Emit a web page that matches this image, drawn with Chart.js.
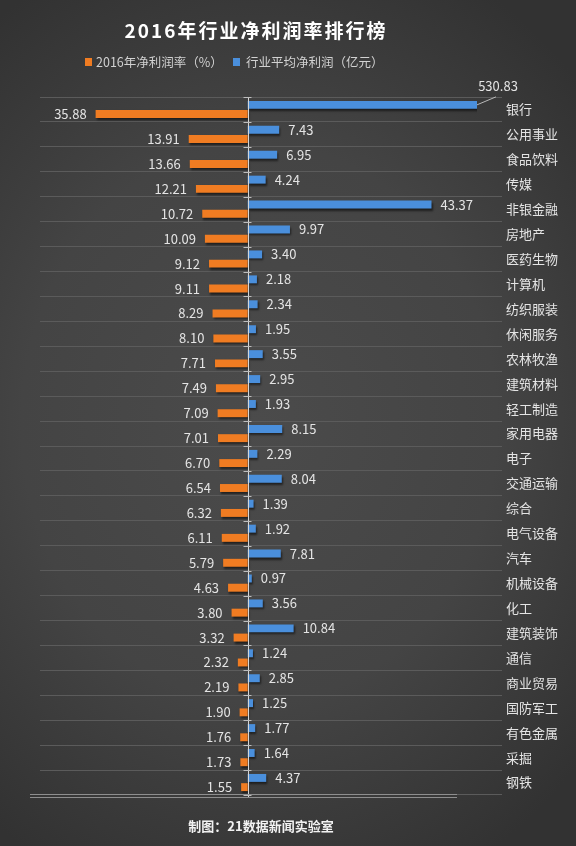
<!DOCTYPE html>
<html><head><meta charset="utf-8">
<script src="https://cdn.jsdelivr.net/npm/chart.js@4.4.1/dist/chart.umd.min.js"></script>
<style>
html,body{margin:0;padding:0;width:576px;height:846px;overflow:hidden;}
body{background: radial-gradient(ellipse 75% 60% at 45% 50%, #4b4b4b 0%, #444444 55%, #323232 100%);}
canvas{display:block;}
</style></head><body>
<canvas id="c" width="576" height="846"></canvas>
<script>
const categories = ['银行','公用事业','食品饮料','传媒','非银金融','房地产','医药生物','计算机','纺织服装','休闲服务','农林牧渔','建筑材料','轻工制造','家用电器','电子','交通运输','综合','电气设备','汽车','机械设备','化工','建筑装饰','通信','商业贸易','国防军工','有色金属','采掘','钢铁'];
const avgProfit = [530.83,7.43,6.95,4.24,43.37,9.97,3.40,2.18,2.34,1.95,3.55,2.95,1.93,8.15,2.29,8.04,1.39,1.92,7.81,0.97,3.56,10.84,1.24,2.85,1.25,1.77,1.64,4.37];
const netMargin = [35.88,13.91,13.66,12.21,10.72,10.09,9.12,9.11,8.29,8.10,7.71,7.49,7.09,7.01,6.70,6.54,6.32,6.11,5.79,4.63,3.80,3.32,2.32,2.19,1.90,1.76,1.73,1.55];
const seriesNames = ['2016年净利润率（%）','行业平均净利润（亿元）'];
const titleText = '2016年行业净利润率排行榜';
const footerText = '制图：21数据新闻实验室';

const FAM = '"Noto Sans CJK SC","Noto Sans",sans-serif';
const BLUE = '#4a8fdc', ORANGE = '#f07c22';
const CAP = 25; // pixels the blue series is clipped inside the plot's right edge

const shadowPlugin = {
  id:'shadow',
  beforeDatasetDraw(chart){ const c=chart.ctx; c.save(); c.shadowColor='rgba(0,0,0,0.55)'; c.shadowOffsetY=2; c.shadowOffsetX=1; c.shadowBlur=2; },
  afterDatasetDraw(chart){ chart.ctx.restore(); }
};

const decoPlugin = {
  id:'deco',
  afterDraw(chart){
    const ctx = chart.ctx, a = chart.chartArea, xs = chart.scales.x;
    ctx.save();
    // zero line with small ticks
    const x0 = Math.round(xs.getPixelForValue(0)) + 0.5;
    ctx.strokeStyle = '#d6d6d6'; ctx.lineWidth = 1;
    ctx.beginPath(); ctx.moveTo(x0, a.top); ctx.lineTo(x0, a.bottom + 2); ctx.stroke();
    const n = categories.length, step = (a.bottom - a.top) / n;
    ctx.strokeStyle = '#bdbdbd';
    for (let i = 0; i <= n; i++) {
      const y = Math.round(a.top + i * step) + 0.5;
      ctx.beginPath(); ctx.moveTo(x0 - 5, y); ctx.lineTo(x0 + 3, y); ctx.stroke();
    }
    // bottom axis line
    ctx.strokeStyle = '#8e8e8e';
    ctx.beginPath(); ctx.moveTo(30, Math.round(a.bottom) - 0.5); ctx.lineTo(457, Math.round(a.bottom) - 0.5); ctx.stroke();
    ctx.beginPath(); ctx.moveTo(30, Math.round(a.bottom) + 2.5); ctx.lineTo(457, Math.round(a.bottom) + 2.5); ctx.stroke();

    // value labels
    ctx.font = '13px ' + FAM; ctx.fillStyle = '#e4e4e4'; ctx.textBaseline = 'middle';
    const capX = a.right - CAP;
    chart.getDatasetMeta(0).data.forEach((bar, i) => {
      const txt = avgProfit[i].toFixed(2);
      if (bar.x > capX) {
        ctx.strokeStyle = '#b8b8b8';
        ctx.beginPath(); ctx.moveTo(capX, bar.y); ctx.lineTo(capX + 19, bar.y - 8); ctx.stroke();
        ctx.textAlign = 'center'; ctx.fillText(txt, capX + 21, bar.y - 19);
      } else {
        ctx.textAlign = 'left'; ctx.fillText(txt, bar.x + 9, bar.y);
      }
    });
    chart.getDatasetMeta(1).data.forEach((bar, i) => {
      ctx.textAlign = 'right'; ctx.fillText(netMargin[i].toFixed(2), bar.x - 9, bar.y);
    });

    // title
    ctx.fillStyle = '#ffffff'; ctx.textAlign = 'center';
    ctx.font = 'bold 19px ' + FAM;
    try { ctx.letterSpacing = '2px'; } catch(e) {}
    ctx.fillText(titleText, 256, 31);
    try { ctx.letterSpacing = '0px'; } catch(e) {}

    // legend
    ctx.font = '12.5px ' + FAM; ctx.textAlign = 'left';
    ctx.fillStyle = ORANGE; ctx.fillRect(85, 58, 7, 8);
    ctx.fillStyle = '#d2d2d2'; ctx.fillText(seriesNames[0], 96, 62);
    ctx.fillStyle = BLUE; ctx.fillRect(233, 58, 7, 8);
    ctx.fillStyle = '#d2d2d2'; ctx.fillText(seriesNames[1], 246, 62);

    // footer
    ctx.font = 'bold 13px ' + FAM; ctx.fillStyle = '#f2f2f2'; ctx.textAlign = 'center';
    ctx.fillText(footerText, 261, 826);
    ctx.restore();
  }
};

new Chart(document.getElementById('c'), {
  type: 'bar',
  data: {
    labels: categories,
    datasets: [
      { label: seriesNames[1], data: avgProfit, backgroundColor: BLUE, borderWidth: 0,
        categoryPercentage: 0.74, barPercentage: 0.86,
        clip: { left: 0, top: 0, right: -CAP, bottom: 0 } },
      { label: seriesNames[0], data: netMargin.map(v => -v), backgroundColor: ORANGE, borderWidth: 0,
        categoryPercentage: 0.74, barPercentage: 0.86 }
    ]
  },
  options: {
    indexAxis: 'y', responsive: false, animation: false,
    layout: { padding: { left: 40, right: 14, top: 97, bottom: 51 } },
    plugins: { legend: { display: false }, title: { display: false }, tooltip: { enabled: false } },
    scales: {
      x: { display: false, min: -49, max: 60 },
      y: { position: 'right', border: { display: false },
           grid: { color: '#5b5b5b', drawTicks: false, offset: true },
           ticks: { color: '#e4e4e4', font: { size: 13, family: FAM }, padding: 4 } }
    }
  },
  plugins: [shadowPlugin, decoPlugin]
});
</script>
</body></html>
